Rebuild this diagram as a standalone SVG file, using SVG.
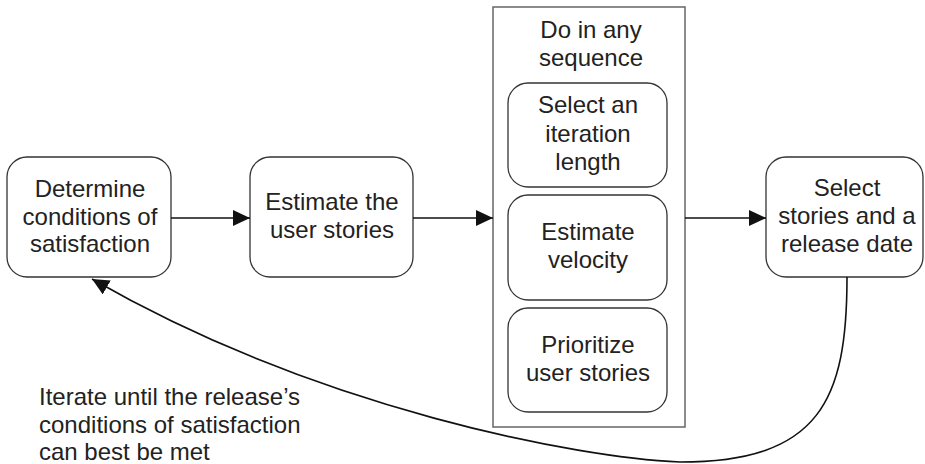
<svg xmlns="http://www.w3.org/2000/svg" width="925" height="464" viewBox="0 0 925 464">
<style>
.box{fill:#fff;stroke:#333;stroke-width:1.3}
.cont{fill:#fff;stroke:#666;stroke-width:1.5}
text{font-family:"Liberation Sans",Arial,sans-serif;font-size:24px;fill:#222}
.c{text-anchor:middle}
.ln{fill:none;stroke:#111;stroke-width:1.6}
</style>
<defs>
<marker id="ah" viewBox="0 0 17 16" refX="17" refY="8" markerWidth="17" markerHeight="16" markerUnits="userSpaceOnUse" orient="auto">
<path d="M0,0 L17,8 L0,16 Z" fill="#111"/>
</marker>
</defs>
<rect width="925" height="464" fill="#fff"/>
<g id="n1">
<rect class="box" x="7" y="157" width="164" height="120" rx="20"/>
<text class="c" x="90" y="197">Determine</text>
<text class="c" x="90" y="225">conditions of</text>
<text class="c" x="90" y="252">satisfaction</text>
</g>
<g id="n2">
<rect class="box" x="250" y="157" width="163" height="120" rx="20"/>
<text class="c" x="332" y="210">Estimate the</text>
<text class="c" x="332" y="238">user stories</text>
</g>
<g id="n3">
<rect class="cont" x="493" y="7" width="192" height="420"/>
<text class="c" x="591" y="38">Do in any</text>
<text class="c" x="591" y="66">sequence</text>
</g>
<g id="n3a">
<rect class="box" x="508" y="83" width="159" height="104" rx="20"/>
<text class="c" x="588" y="113">Select an</text>
<text class="c" x="588" y="142">iteration</text>
<text class="c" x="588" y="170">length</text>
</g>
<g id="n3b">
<rect class="box" x="508" y="195" width="159" height="105" rx="20"/>
<text class="c" x="588" y="240">Estimate</text>
<text class="c" x="588" y="268">velocity</text>
</g>
<g id="n3c">
<rect class="box" x="508" y="308" width="159" height="104" rx="20"/>
<text class="c" x="588" y="353">Prioritize</text>
<text class="c" x="588" y="381">user stories</text>
</g>
<g id="n4">
<rect class="box" x="766" y="157" width="157" height="120" rx="20"/>
<text class="c" x="847" y="196">Select</text>
<text class="c" x="847" y="224">stories and a</text>
<text class="c" x="847" y="252">release date</text>
</g>
<g id="label">
<text x="39" y="405">Iterate until the release’s</text>
<text x="39" y="433">conditions of satisfaction</text>
<text x="39" y="460">can best be met</text>
</g>
<g id="connectors">
<line class="ln" x1="171" y1="218" x2="250" y2="218" marker-end="url(#ah)"/>
<line class="ln" x1="413" y1="218" x2="493" y2="218" marker-end="url(#ah)"/>
<line class="ln" x1="685" y1="218" x2="766" y2="218" marker-end="url(#ah)"/>
<path class="ln" d="M847,277 C847,400 820,462 680,462 C580,458 320,410 92,279" marker-end="url(#ah)"/>
</g>
</svg>
